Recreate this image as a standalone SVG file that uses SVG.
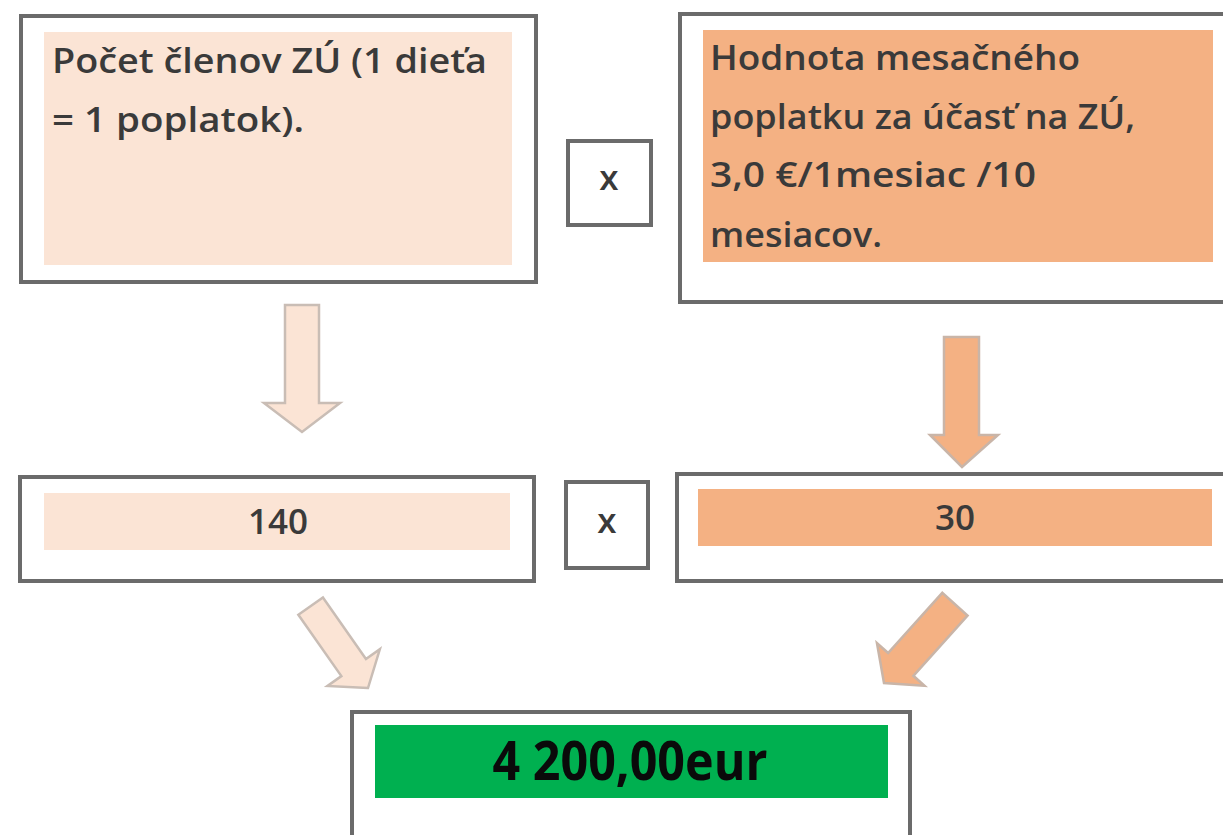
<svg xmlns="http://www.w3.org/2000/svg" width="1223" height="835" viewBox="0 0 1223 835">
<style>
.frame{fill:#ffffff;stroke:#6b6b6b;stroke-width:4}
.light{fill:#FBE4D5}
.orange{fill:#F4B183}
.green{fill:#00B050}
.t{font-family:"Open Sans","Liberation Sans",sans-serif;font-weight:600;font-size:35px;fill:#3a3a3a}
.big{font-family:"Open Sans","Liberation Sans",sans-serif;font-weight:700;font-size:54px;fill:#0a0a0a}
.arrL{fill:#FBE4D5;stroke:#c9bdb5;stroke-width:2.5;stroke-linejoin:miter}
.arrO{fill:#F4B183;stroke:#c9b5a8;stroke-width:2.5;stroke-linejoin:miter}
</style>
<rect width="1223" height="835" fill="#ffffff"/>

<g id="box-pocet">
<rect class="frame" x="21" y="16" width="515" height="266"/>
<rect class="light" x="44" y="32" width="468" height="233"/>
<text class="t" x="52" y="73" textLength="435" lengthAdjust="spacingAndGlyphs">Počet členov ZÚ (1 dieťa</text>
<text class="t" x="52" y="132" textLength="252" lengthAdjust="spacingAndGlyphs">= 1 poplatok).</text>
</g>

<g id="box-x1">
<rect class="frame" x="568" y="141" width="83" height="84"/>
<text class="t" x="609" y="190" text-anchor="middle">x</text>
</g>

<g id="box-hodnota">
<rect class="frame" x="680" y="14" width="560" height="288"/>
<rect class="orange" x="703" y="30" width="510" height="232"/>
<text class="t" x="710" y="70" textLength="370" lengthAdjust="spacingAndGlyphs">Hodnota mesačného</text>
<text class="t" x="710" y="129" textLength="425" lengthAdjust="spacingAndGlyphs">poplatku za účasť na ZÚ,</text>
<text class="t" x="710" y="187" textLength="326" lengthAdjust="spacingAndGlyphs">3,0 €/1mesiac /10</text>
<text class="t" x="710" y="247" textLength="172" lengthAdjust="spacingAndGlyphs">mesiacov.</text>
</g>

<g id="box-140">
<rect class="frame" x="20" y="477" width="514" height="104"/>
<rect class="light" x="44" y="493" width="466" height="57"/>
<text class="t" x="278" y="534" text-anchor="middle">140</text>
</g>

<g id="box-x2">
<rect class="frame" x="566" y="482" width="82" height="86"/>
<text class="t" x="607" y="533" text-anchor="middle">x</text>
</g>

<g id="box-30">
<rect class="frame" x="677" y="474" width="560" height="107"/>
<rect class="orange" x="698" y="489" width="514" height="57"/>
<text class="t" x="955" y="530" text-anchor="middle">30</text>
</g>

<g id="box-result">
<rect class="frame" x="352" y="712" width="558" height="140"/>
<rect class="green" x="375" y="725" width="513" height="73"/>
<text class="big" x="630" y="780" text-anchor="middle" textLength="275" lengthAdjust="spacingAndGlyphs">4 200,00eur</text>
</g>

<g id="connectors">
<polygon class="arrL" points="285,305 319,305 319,403 340,403 302,432 264,403 285,403"/>
<polygon class="arrO" points="944,337 979,337 979,435 998,435 962,467 930,435 944,435"/>
<polygon class="arrL" transform="translate(368,688) rotate(-35)" points="0,0 -32,-25 -15,-25 -15,-100 15,-100 15,-25 32,-25"/>
<polygon class="arrO" transform="translate(884,683) rotate(42)" points="0,0 -32,-25 -17,-25 -17,-106 17,-106 17,-25 32,-25"/>
</g>
</svg>
